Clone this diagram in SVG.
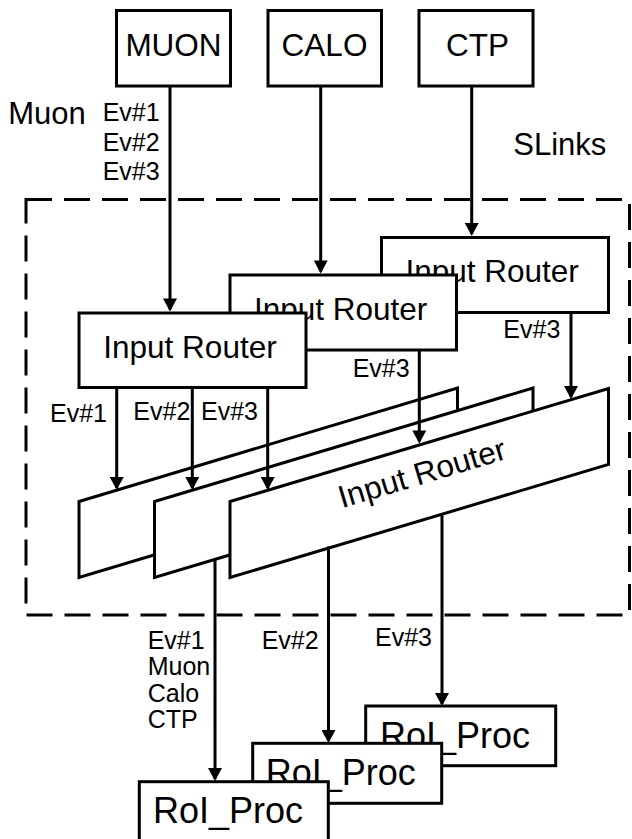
<svg xmlns="http://www.w3.org/2000/svg" width="632" height="839" viewBox="0 0 632 839">
<style>
  .box { fill: #fff; stroke: #000; stroke-width: 3; }
  .ln { fill: none; stroke: #000; stroke-width: 3; }
  .arr { fill: none; stroke: #000; stroke-width: 3; marker-end: url(#ah); }
  .big { font-family: "Liberation Sans", Arial, sans-serif; font-size: 31.5px; fill: #000; }
  .sm { font-family: "Liberation Sans", Arial, sans-serif; font-size: 25px; fill: #000; }
  .roi { font-family: "Liberation Sans", Arial, sans-serif; font-size: 36px; fill: #000; }
</style>
<defs>
  <marker id="ah" markerUnits="userSpaceOnUse" markerWidth="14" markerHeight="14" viewBox="0 0 13 14" refX="11" refY="7" orient="auto">
    <path d="M0,0 L13,7 L0,14 z" fill="#000"/>
  </marker>
</defs>
<rect width="632" height="839" fill="#fff"/>

<g id="boundary">
  <rect x="26" y="199.5" width="603.5" height="415.5" fill="none" stroke="#000" stroke-width="3" stroke-dasharray="26 12"/>
</g>

<g id="muon">
  <rect class="box" x="116.5" y="10.5" width="114" height="75.5"/>
  <text class="big" x="173.5" y="56" text-anchor="middle">MUON</text>
</g>
<g id="calo">
  <rect class="box" x="268" y="10.5" width="113.5" height="75.5"/>
  <text class="big" x="324.5" y="56" text-anchor="middle">CALO</text>
</g>
<g id="ctp">
  <rect class="box" x="419" y="10.5" width="114" height="75.5"/>
  <text class="big" x="477.5" y="56" text-anchor="middle">CTP</text>
</g>

<g id="router-ctp">
  <rect class="box" x="381.5" y="237.5" width="227" height="75"/>
  <text class="big" x="405.5" y="282.3">Input Router</text>
</g>
<g id="router-calo">
  <rect class="box" x="230" y="275" width="226.5" height="75"/>
  <text class="big" x="254" y="320">Input Router</text>
</g>
<g id="router-muon">
  <rect class="box" x="79" y="313" width="227" height="74.5"/>
  <text class="big" x="103.3" y="357.7">Input Router</text>
</g>

<g id="builder-1">
  <polygon class="box" points="79,501.5 457.5,388 457.5,464 79,577.5"/>
</g>
<g id="builder-2">
  <polygon class="box" points="154.5,501.5 533,388 533,464 154.5,577.5"/>
</g>
<g id="builder-3">
  <polygon class="box" points="230,501.5 608.5,388.5 608.5,464.5 230,577.5"/>
  <text class="big" transform="translate(425,483.4) rotate(-16.7)" text-anchor="middle">Input Router</text>
</g>

<g id="roi-3">
  <rect class="box" x="365.7" y="706" width="190" height="59.7"/>
  <text class="roi" x="380" y="748">RoI_Proc</text>
</g>
<g id="roi-2">
  <rect class="box" x="252.7" y="743.3" width="189" height="60"/>
  <text class="roi" x="265.7" y="785">RoI_Proc</text>
</g>
<g id="roi-1">
  <rect class="box" x="139.3" y="781.7" width="189" height="62"/>
  <text class="roi" x="153" y="822.7">RoI_Proc</text>
</g>

<g id="connectors">
  <line class="arr" x1="170" y1="86" x2="170" y2="309.5"/>
  <line class="arr" x1="320.7" y1="86" x2="320.7" y2="271.5"/>
  <line class="arr" x1="471.7" y1="86" x2="471.7" y2="234"/>

  <line class="arr" x1="116.7" y1="387.5" x2="116.7" y2="488"/>
  <line class="arr" x1="192.3" y1="387.5" x2="192.3" y2="488"/>
  <line class="arr" x1="267.7" y1="387.5" x2="267.7" y2="488"/>
  <line class="arr" x1="419.3" y1="350" x2="419.3" y2="441.5"/>
  <line class="arr" x1="571" y1="312.5" x2="571" y2="397"/>

  <line class="arr" x1="215" y1="559" x2="215" y2="779"/>
  <line class="arr" x1="328.5" y1="546.5" x2="328.5" y2="741"/>
  <line class="arr" x1="442" y1="514" x2="442" y2="704"/>
</g>

<g id="labels">
  <text class="big" x="8.3" y="124" style="font-size:31px">Muon</text>
  <text class="sm" x="102.7" y="120.7">Ev#1</text>
  <text class="sm" x="102.7" y="150.5">Ev#2</text>
  <text class="sm" x="102.7" y="180">Ev#3</text>
  <text class="big" x="513.3" y="155" style="font-size:31px">SLinks</text>

  <text class="sm" x="503.3" y="338.3">Ev#3</text>
  <text class="sm" x="352.7" y="376.7">Ev#3</text>
  <text class="sm" x="50" y="422.3">Ev#1</text>
  <text class="sm" x="133.3" y="420">Ev#2</text>
  <text class="sm" x="201" y="420">Ev#3</text>

  <text class="sm" x="147.7" y="649">Ev#1</text>
  <text class="sm" x="147.7" y="675.3">Muon</text>
  <text class="sm" x="147.7" y="701.7">Calo</text>
  <text class="sm" x="147.7" y="728">CTP</text>
  <text class="sm" x="261.7" y="649">Ev#2</text>
  <text class="sm" x="375" y="646">Ev#3</text>
</g>
</svg>
